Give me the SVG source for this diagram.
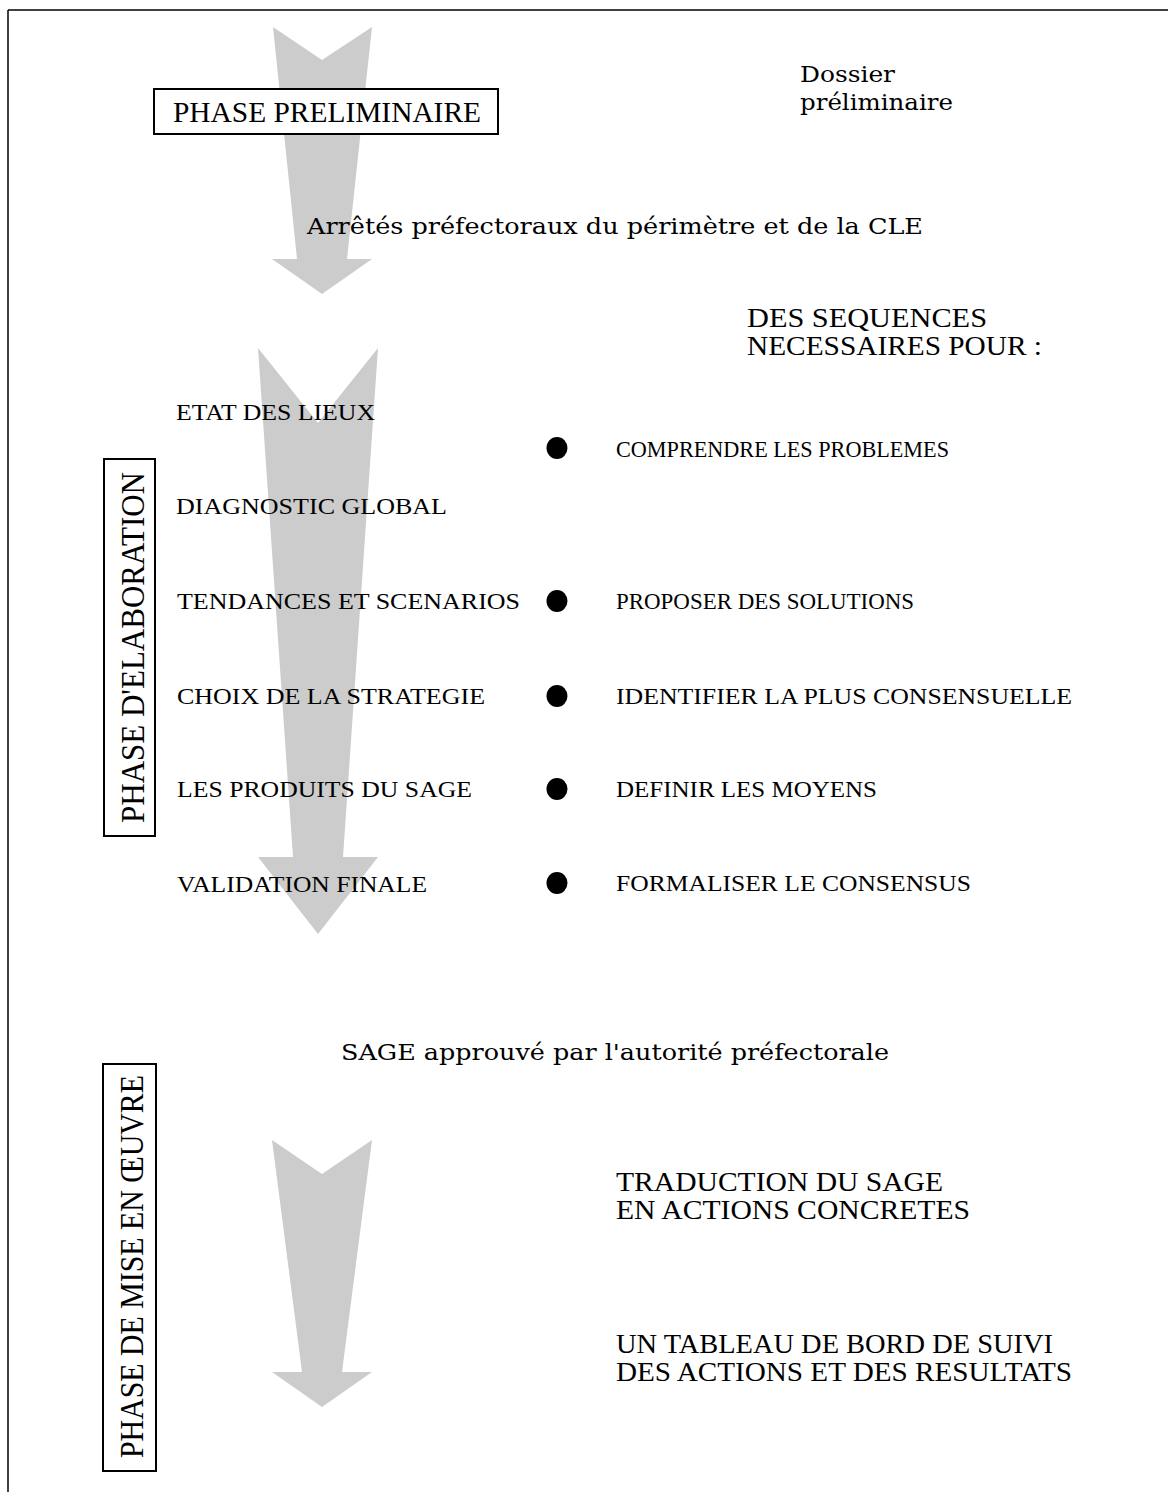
<svg xmlns="http://www.w3.org/2000/svg" width="1168" height="1492" viewBox="0 0 1168 1492">
<style>
.t{font-family:"Liberation Serif","Times New Roman",serif;fill:#000}
.m{font-family:"DejaVu Serif","Liberation Serif",serif;fill:#000}
.r{font-size:24px}
.b{font-size:28px}
.box{fill:#fff;stroke:#000;stroke-width:2}
.arr{fill:#cccccc}
.dot{fill:#000}
</style>
<rect width="1168" height="1492" fill="#fff"/>
<g id="frame" stroke="#000" stroke-width="1.5" fill="none">
<line x1="8" y1="10" x2="1168" y2="10"/>
<line x1="8" y1="10" x2="8" y2="1492"/>
</g>
<g id="connectors">
<polygon class="arr" points="273,27 322,60 372,27 347,259 372,259 322,294 272,259 297,259"/>
<polygon class="arr" points="258,348 318,423 378,348 343,857 378,857 318,934 258,857 293,857"/>
<polygon class="arr" points="272,1140 322,1174 372,1140 342,1372 372,1372 322,1407 272,1372 302,1372"/>
</g>
<g id="phase-preliminaire">
<rect class="box" x="154" y="89" width="344" height="45"/>
<text class="t" x="173" y="122" font-size="30" textLength="308" lengthAdjust="spacingAndGlyphs">PHASE PRELIMINAIRE</text>
</g>
<g id="dossier">
<text class="m" x="800" y="82" font-size="23" textLength="95" lengthAdjust="spacingAndGlyphs">Dossier</text>
<text class="m" x="800" y="110" font-size="23" textLength="153" lengthAdjust="spacingAndGlyphs">préliminaire</text>
</g>
<g id="arretes">
<text class="m" x="307" y="234" font-size="23" textLength="616" lengthAdjust="spacingAndGlyphs">Arrêtés préfectoraux du périmètre et de la CLE</text>
</g>
<g id="sequences">
<text class="t b" x="747" y="327" textLength="240" lengthAdjust="spacingAndGlyphs">DES SEQUENCES</text>
<text class="t b" x="747" y="355" textLength="295" lengthAdjust="spacingAndGlyphs">NECESSAIRES POUR :</text>
</g>
<g id="phase-elaboration">
<rect class="box" x="104" y="459" width="51" height="377"/>
<text class="t" transform="translate(144,823) rotate(-90)" font-size="34" textLength="351" lengthAdjust="spacingAndGlyphs">PHASE D'ELABORATION</text>
</g>
<g id="etapes">
<text class="t r" x="176" y="420" textLength="199" lengthAdjust="spacingAndGlyphs">ETAT DES LIEUX</text>
<text class="t r" x="176" y="514" textLength="271" lengthAdjust="spacingAndGlyphs">DIAGNOSTIC GLOBAL</text>
<text class="t r" x="177" y="609" textLength="343" lengthAdjust="spacingAndGlyphs">TENDANCES ET SCENARIOS</text>
<text class="t r" x="177" y="704" textLength="308" lengthAdjust="spacingAndGlyphs">CHOIX DE LA STRATEGIE</text>
<text class="t r" x="177" y="797" textLength="295" lengthAdjust="spacingAndGlyphs">LES PRODUITS DU SAGE</text>
<text class="t r" x="177" y="892" textLength="250" lengthAdjust="spacingAndGlyphs">VALIDATION FINALE</text>
</g>
<g id="bullets">
<ellipse class="dot" cx="557" cy="448" rx="10.5" ry="11"/>
<ellipse class="dot" cx="557" cy="601" rx="10.5" ry="11"/>
<ellipse class="dot" cx="557" cy="696" rx="10.5" ry="11"/>
<ellipse class="dot" cx="557" cy="789" rx="10.5" ry="11"/>
<ellipse class="dot" cx="557" cy="883" rx="10.5" ry="11"/>
</g>
<g id="objectifs">
<text class="t r" x="616" y="457" textLength="333" lengthAdjust="spacingAndGlyphs">COMPRENDRE LES PROBLEMES</text>
<text class="t r" x="616" y="609" textLength="298" lengthAdjust="spacingAndGlyphs">PROPOSER DES SOLUTIONS</text>
<text class="t r" x="616" y="704" textLength="456" lengthAdjust="spacingAndGlyphs">IDENTIFIER LA PLUS CONSENSUELLE</text>
<text class="t r" x="616" y="797" textLength="261" lengthAdjust="spacingAndGlyphs">DEFINIR LES MOYENS</text>
<text class="t r" x="616" y="891" textLength="355" lengthAdjust="spacingAndGlyphs">FORMALISER LE CONSENSUS</text>
</g>
<g id="sage-approuve">
<text class="m" x="341" y="1060" font-size="23" textLength="548" lengthAdjust="spacingAndGlyphs">SAGE approuvé par l'autorité préfectorale</text>
</g>
<g id="phase-mise-en-oeuvre">
<rect class="box" x="103" y="1064" width="53" height="407"/>
<text class="t" transform="translate(143,1458) rotate(-90)" font-size="34" textLength="383" lengthAdjust="spacingAndGlyphs">PHASE DE MISE EN ŒUVRE</text>
</g>
<g id="traduction">
<text class="t b" x="616" y="1191" textLength="327" lengthAdjust="spacingAndGlyphs">TRADUCTION DU SAGE</text>
<text class="t b" x="616" y="1219" textLength="354" lengthAdjust="spacingAndGlyphs">EN ACTIONS CONCRETES</text>
</g>
<g id="tableau">
<text class="t b" x="616" y="1353" textLength="437" lengthAdjust="spacingAndGlyphs">UN TABLEAU DE BORD DE SUIVI</text>
<text class="t b" x="616" y="1381" textLength="456" lengthAdjust="spacingAndGlyphs">DES ACTIONS ET DES RESULTATS</text>
</g>
</svg>
